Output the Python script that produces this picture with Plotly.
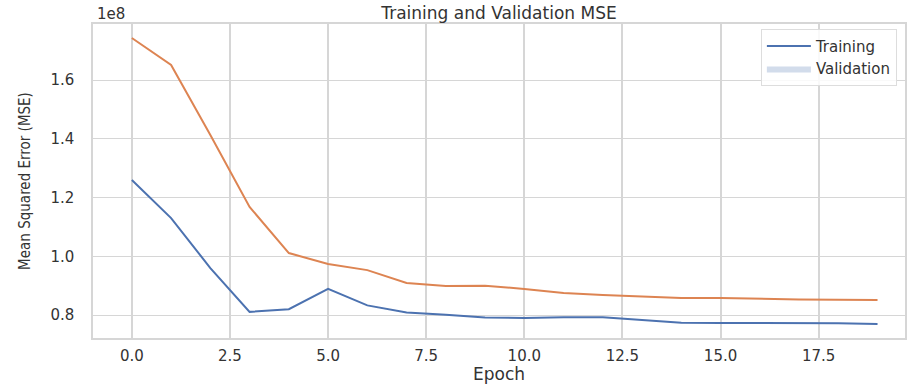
import plotly.graph_objects as go

epochs = list(range(20))
training_mse = [1.260e8, 1.130e8, 0.960e8, 0.811e8, 0.820e8, 0.889e8, 0.833e8, 0.809e8,
                0.801e8, 0.792e8, 0.790e8, 0.793e8, 0.793e8, 0.783e8, 0.774e8, 0.773e8,
                0.773e8, 0.773e8, 0.772e8, 0.770e8]
validation_mse = [1.743e8, 1.651e8, 1.413e8, 1.168e8, 1.011e8, 0.974e8, 0.953e8, 0.909e8,
                  0.899e8, 0.900e8, 0.889e8, 0.875e8, 0.868e8, 0.862e8, 0.858e8, 0.858e8,
                  0.855e8, 0.853e8, 0.852e8, 0.851e8]
y_tick_vals = [0.8e8, 1.0e8, 1.2e8, 1.4e8, 1.6e8]
y_tick_text = ["0.8", "1.0", "1.2", "1.4", "1.6"]
x_tick_vals = [0.0, 2.5, 5.0, 7.5, 10.0, 12.5, 15.0, 17.5]
x_tick_text = ["0.0", "2.5", "5.0", "7.5", "10.0", "12.5", "15.0", "17.5"]

BLUE = "#4c72b0"
ORANGE = "#dd8452"
TXT = "#333333"
GRID = "#d6d6d6"
FONT = "DejaVu Sans, sans-serif"
COND = "DejaVu Sans Condensed, Liberation Sans Narrow, sans-serif"

fig = go.Figure()
fig.add_trace(go.Scatter(x=epochs, y=training_mse, mode="lines", name="Training",
                         line=dict(color=BLUE, width=2)))
fig.add_trace(go.Scatter(x=epochs, y=validation_mse, mode="lines", name="Validation line",
                         showlegend=False, line=dict(color=ORANGE, width=2)))
# legend patch for "Validation" (as in the reference legend)
fig.add_trace(go.Scatter(x=[None], y=[None], mode="lines", name="Validation",
                         fill="toself", fillcolor="rgba(76,114,176,0.25)",
                         line=dict(color="rgba(76,114,176,0.0)", width=0)))

fig.update_layout(
    width=907, height=384,
    margin=dict(l=93, r=0, t=24, b=46),
    paper_bgcolor="white", plot_bgcolor="white",
    font=dict(family=FONT, color=TXT, size=13),
    title=dict(text="Training and Validation MSE", x=0.5, xref="paper", xanchor="center",
               y=0.965, yref="container", yanchor="middle",
               font=dict(family=FONT, size=17, color=TXT)),
    showlegend=True,
    legend=dict(x=0.99, y=0.985, xanchor="right", yanchor="top",
                bgcolor="rgba(255,255,255,0.85)", bordercolor="#dddddd", borderwidth=1,
                font=dict(family=FONT, size=15, color=TXT),
                tracegroupgap=0, itemwidth=44),
)
fig.update_xaxes(range=[-0.99, 19.7], tickvals=x_tick_vals, ticktext=x_tick_text,
                 showgrid=True, gridcolor=GRID, gridwidth=2,
                 showline=True, linecolor=GRID, linewidth=1.5, mirror=True,
                 zeroline=False, ticks="", ticklabelstandoff=3,
                 tickfont=dict(family=FONT, size=15, color=TXT),
                 title=dict(text="Epoch", standoff=7, font=dict(family=FONT, size=17, color=TXT)))
fig.update_yaxes(range=[0.722e8, 1.7906e8], tickvals=y_tick_vals, ticktext=y_tick_text,
                 showgrid=True, gridcolor=GRID, gridwidth=1,
                 showline=True, linecolor=GRID, linewidth=1.5, mirror=True,
                 zeroline=False, ticks="", ticklabelstandoff=14,
                 tickfont=dict(family=FONT, size=15, color=TXT),
                 title=dict(text="Mean Squared Error (MSE)", standoff=16,
                            font=dict(family=COND, size=15, color=TXT)))
fig.add_annotation(text="1e8", xref="paper", yref="paper", x=0.0, y=1.0,
                   xanchor="left", yanchor="bottom", showarrow=False, yshift=-1, xshift=2,
                   font=dict(family=FONT, size=15, color=TXT))

fig.write_html("out.html")
